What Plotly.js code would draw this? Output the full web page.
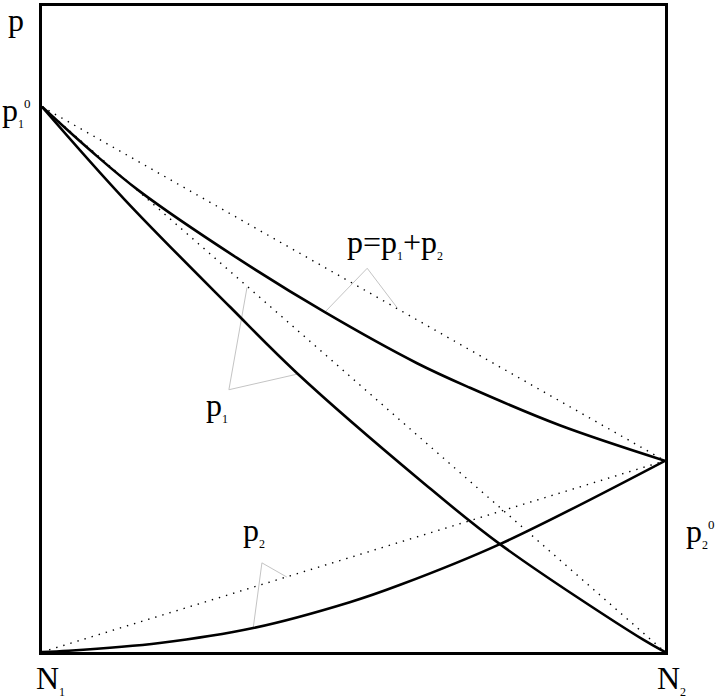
<!DOCTYPE html>
<html>
<head>
<meta charset="utf-8">
<script src="https://cdn.plot.ly/plotly-3.0.1.min.js"></script>
<style>
html,body{margin:0;padding:0;background:#fff;}
#chart{width:717px;height:698px;}
</style>
</head>
<body>
<div id="chart"></div>
<script>
// ---- data (x: N1 -> N2 normalised, y: price normalised to box height) ----
var p1X = [0, 0.133, 0.302, 0.409, 0.607, 0.735, 0.965, 1];
var p1Y = [0.844, 0.700, 0.534, 0.432, 0.266, 0.167, 0.019, 0];

var pTotX = [0, 0.077, 0.157, 0.313, 0.454, 0.602, 0.687, 0.831, 1];
var pTotY = [0.844, 0.777, 0.713, 0.610, 0.526, 0.447, 0.409, 0.351, 0.296];

var p2X = [0, 0.043, 0.189, 0.339, 0.494, 0.575, 0.735, 1];
var p2Y = [0, 0.002, 0.014, 0.037, 0.077, 0.104, 0.167, 0.296];

// straight (dotted) reference lines
var refX = [0, 1];
var refP1Y = [0.844, 0];
var refP2Y = [0, 0.296];
var refTotY = [0.844, 0.296];

// leader lines for labels
var leadTotX = [0.454, 0.522, 0.570];
var leadTotY = [0.526, 0.594, 0.533];
var leadP1X = [0.329, 0.300, 0.409];
var leadP1Y = [0.564, 0.406, 0.430];
var leadP2X = [0.393, 0.353, 0.339];
var leadP2Y = [0.116, 0.138, 0.037];

// ---- layout helpers ----
var W = 717, H = 698, L = 42, R = 52, T = 6, B = 46;
var pw = W - L - R, ph = H - T - B;
function px(x) { return (x - L) / pw; }
function py(y) { return (H - B - y) / ph; }

var solid = {color: '#000', width: 2.6};
var dotted = {color: '#000', width: 1.4, dash: '1.4px,6px'};
var leader = {color: '#c4c4c4', width: 1};

function tr(x, y, line, shape) {
  return {x: x, y: y, mode: 'lines', type: 'scatter', hoverinfo: 'skip',
          showlegend: false, line: Object.assign({shape: shape || 'linear', smoothing: 1}, line)};
}

var data = [
  tr(refX, refTotY, dotted),
  tr(refX, refP1Y, dotted),
  tr(refX, refP2Y, dotted),
  tr(leadTotX, leadTotY, leader),
  tr(leadP1X, leadP1Y, leader),
  tr(leadP2X, leadP2Y, leader),
  tr(pTotX, pTotY, solid, 'spline'),
  tr(p1X, p1Y, solid, 'spline'),
  tr(p2X, p2Y, solid, 'spline')
];

var F = {family: 'Liberation Serif, serif', size: 32, color: '#000'};
function sub(t) { return '<sub><span style="font-size:12px">' + t + '</span></sub>'; }
function sup(t) { return '<sup><span style="font-size:13px">' + t + '</span></sup>'; }

function ann(text, x, y, ya) {
  return {text: text, x: px(x), y: py(y), xref: 'paper', yref: 'paper',
          xanchor: 'left', yanchor: ya || 'middle', showarrow: false, font: F};
}

var annotations = [
  ann('p', 6, 0, 'top'),
  ann('p' + sub('1') + sup('0'), 0, 111),
  ann('N' + sub('1'), 34, 679),
  ann('N' + sub('2'), 655, 679),
  ann('p' + sub('2') + sup('0'), 684, 532),
  ann('p=p' + sub('1') + '+p' + sub('2'), 345, 243),
  ann('p' + sub('1'), 204, 406),
  ann('p' + sub('2'), 241, 531)
];

var axisBase = {range: [0, 1], showgrid: false, zeroline: false, showticklabels: false,
                ticks: '', showline: true, mirror: true, linecolor: '#000', linewidth: 2.6,
                fixedrange: true};

var layout = {
  width: W, height: H,
  margin: {l: L, r: R, t: T, b: B, pad: 0},
  paper_bgcolor: '#fff', plot_bgcolor: '#fff',
  xaxis: Object.assign({}, axisBase),
  yaxis: Object.assign({}, axisBase),
  annotations: annotations,
  showlegend: false
};

Plotly.newPlot('chart', data, layout, {displayModeBar: false, staticPlot: true});
</script>
</body>
</html>
